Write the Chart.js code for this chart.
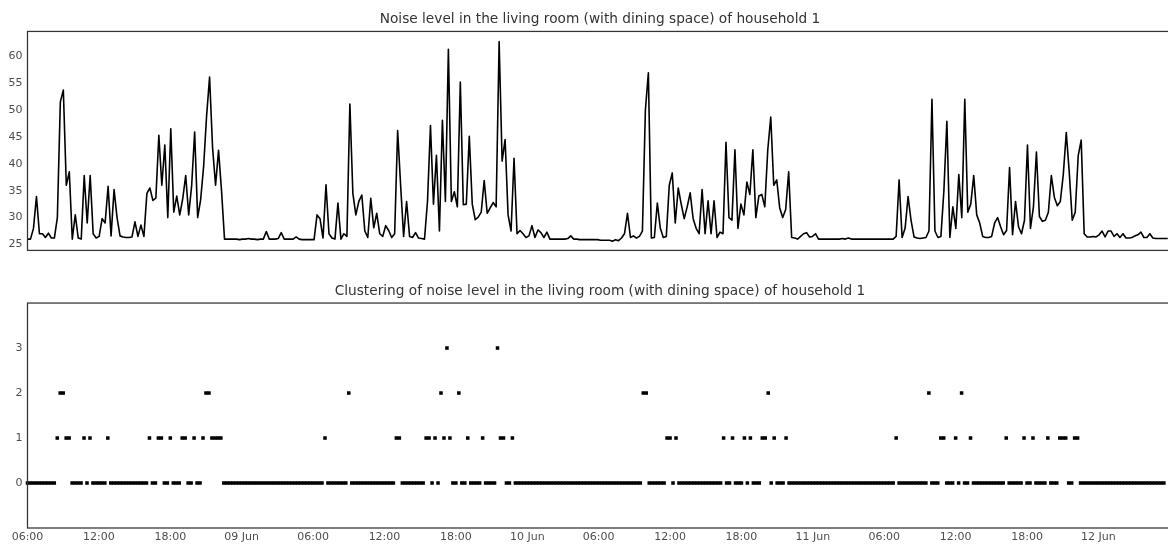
<!DOCTYPE html>
<html>
<head>
<meta charset="utf-8">
<script src="https://cdn.jsdelivr.net/npm/chart.js@4.4.1/dist/chart.umd.min.js"></script>
<style>
  html, body { margin: 0; padding: 0; background: #fff; }
  body { width: 1168px; height: 544px; overflow: hidden; position: relative; }
  .panel { position: absolute; left: 0; width: 1200px; }
  #noise-panel { top: 0; height: 262px; }
  #cluster-panel { top: 270px; height: 274px; }
</style>
</head>
<body>
<div class="panel" id="noise-panel"><canvas id="noise-chart"></canvas></div>
<div class="panel" id="cluster-panel"><canvas id="cluster-chart"></canvas></div>
<script>
  // One reading every 15 minutes, starting 08 Jun 06:00
  const SAMPLE_MINUTES = 15;

  // Noise level (dB)
  const noiseLevel = [
    26.0, 26.0, 28.0, 33.9, 27.0, 27.0, 26.3, 27.1, 26.2, 26.2,
    30.0, 51.5, 53.7, 36.0, 38.5, 26.0, 30.5, 26.2, 26.0, 37.8,
    29.0, 37.8, 27.0, 26.2, 26.5, 29.8, 29.0, 35.8, 26.6, 35.2,
    30.0, 26.6, 26.4, 26.3, 26.3, 26.4, 29.2, 26.5, 28.6, 26.5,
    34.5, 35.5, 33.2, 33.6, 45.3, 36.0, 43.5, 30.0, 46.5, 31.0,
    34.0, 30.5, 33.5, 37.8, 30.5, 36.0, 45.9, 30.0, 33.3, 39.5,
    48.9, 56.1, 43.0, 36.0, 42.5, 35.0, 26.0, 26.0, 26.0, 26.0,
    26.0, 25.9, 26.0, 26.0, 26.1, 26.0, 26.0, 25.9, 26.0, 26.0,
    27.4, 26.0, 26.0, 26.0, 26.1, 27.2, 26.0, 26.0, 26.0, 26.0,
    26.4, 26.0, 25.9, 25.9, 25.9, 25.9, 25.9, 30.5, 29.8, 26.2,
    36.1, 27.0, 26.2, 26.0, 32.7, 26.0, 27.0, 26.5, 51.1, 34.5,
    30.5, 33.0, 34.2, 27.5, 26.3, 33.6, 28.1, 30.8, 27.0, 26.5,
    28.5, 27.6, 26.3, 27.0, 46.2, 36.0, 26.5, 33.0, 26.5, 26.3,
    27.2, 26.2, 26.1, 26.0, 33.0, 47.1, 32.5, 41.6, 27.5, 48.1,
    33.0, 61.3, 33.0, 34.8, 32.0, 55.2, 32.4, 32.5, 45.1, 32.5,
    29.6, 30.1, 31.0, 36.9, 30.8, 31.8, 32.8, 32.0, 62.7, 40.5,
    44.5, 30.5, 27.5, 41.0, 27.0, 27.6, 27.0, 26.3, 26.6, 28.5,
    26.3, 27.7, 27.2, 26.3, 27.3, 26.0, 26.0, 26.0, 26.0, 26.0,
    26.0, 26.1, 26.6, 26.0, 26.0, 25.9, 25.9, 25.9, 25.9, 25.9,
    25.9, 25.9, 25.8, 25.8, 25.8, 25.8, 25.6, 25.9, 25.7, 26.2,
    27.0, 30.8, 26.3, 26.6, 26.2, 26.5, 27.5, 50.0, 56.9, 26.2,
    26.3, 32.7, 28.0, 26.3, 26.5, 36.0, 38.3, 29.0, 35.5, 32.5,
    29.8, 32.0, 34.6, 29.8, 28.0, 27.0, 35.2, 27.0, 33.1, 27.0,
    33.1, 26.3, 27.3, 27.0, 44.0, 30.0, 29.5, 42.6, 28.0, 32.5,
    30.5, 36.6, 34.3, 42.6, 30.0, 34.0, 34.3, 32.0, 42.6, 48.7,
    36.0, 37.0, 31.8, 30.0, 31.5, 38.5, 26.3, 26.2, 26.0, 26.5,
    27.0, 27.2, 26.4, 26.5, 27.0, 26.0, 26.0, 26.0, 26.0, 26.0,
    26.0, 26.0, 26.0, 26.1, 26.0, 26.2, 26.0, 26.0, 26.0, 26.0,
    26.0, 26.0, 26.0, 26.0, 26.0, 26.0, 26.0, 26.0, 26.0, 26.0,
    26.0, 26.5, 37.0, 26.3, 28.0, 33.9, 29.5, 26.4, 26.2, 26.1,
    26.2, 26.3, 27.5, 52.0, 27.5, 26.3, 26.5, 35.0, 47.9, 26.3,
    32.0, 28.0, 38.0, 30.0, 52.0, 31.0, 32.5, 37.8, 30.5, 29.0,
    26.5, 26.3, 26.3, 26.5, 29.0, 30.0, 28.3, 26.8, 27.6, 39.3,
    26.8, 33.0, 28.3, 27.0, 29.5, 43.5, 28.0, 32.0, 42.2, 30.2,
    29.3, 29.5, 31.0, 37.8, 33.8, 32.2, 33.0, 38.0, 45.8, 38.4,
    29.5, 31.0, 41.5, 44.4, 27.0, 26.4, 26.4, 26.5, 26.4, 26.8,
    27.5, 26.4, 27.5, 27.5, 26.5, 27.0, 26.3, 27.0, 26.2, 26.2,
    26.3, 26.6, 26.8, 27.3, 26.3, 26.3, 27.0, 26.2, 26.1, 26.1,
    26.1, 26.1, 26.1
  ];

  // Sample positions that fall in cluster 1, 2 and 3 (all others are cluster 0)
  const clusterOneSamples = [
    10, 13, 14, 19, 21, 27, 41, 44, 45, 48, 52, 53, 56, 59, 62, 63, 64, 65,
    100, 124, 125, 134, 135, 137, 140, 142, 148, 153, 159, 160, 163,
    215, 216, 218, 234, 237, 241, 243, 247, 248, 251, 255,
    292, 307, 308, 312, 317, 329, 335, 338, 343, 347, 348, 349, 352, 353
  ];
  const clusterTwoSamples = [11, 12, 60, 61, 108, 139, 145, 207, 208, 249, 303, 314];
  const clusterThreeSamples = [141, 158];

  // Axis ticks (hours since 08 Jun 06:00)
  const xTickHours = [0, 6, 12, 18, 24, 30, 36, 42, 48, 54, 60, 66, 72, 78, 84, 90];
  const xTickLabels = [
    '06:00', '12:00', '18:00', '09 Jun', '06:00', '12:00', '18:00', '10 Jun',
    '06:00', '12:00', '18:00', '11 Jun', '06:00', '12:00', '18:00', '12 Jun'
  ];
  const noiseTicks = [25, 30, 35, 40, 45, 50, 55, 60];
  const clusterTicks = [0, 1, 2, 3];

  const FONT = 'DejaVu Sans';
  const TICK_COLOR = '#4d4d4d';
  const FRAME_COLOR = '#333';
  const X_MIN = 0;
  const X_MAX = 98.2;

  Chart.defaults.font.family = FONT;
  Chart.defaults.animation = false;

  const hours = noiseLevel.map((_, i) => i * SAMPLE_MINUTES / 60);

  const clusterLabel = noiseLevel.map(() => 0);
  clusterOneSamples.forEach(i => { clusterLabel[i] = 1; });
  clusterTwoSamples.forEach(i => { clusterLabel[i] = 2; });
  clusterThreeSamples.forEach(i => { clusterLabel[i] = 3; });

  function fixedTicks(values) {
    return function(scale) {
      scale.ticks = values.map(v => ({ value: v }));
    };
  }

  // Draws the box around the plot area (matplotlib style spines)
  const framePlugin = {
    id: 'frame',
    afterDraw(chart) {
      const a = chart.chartArea;
      const ctx = chart.ctx;
      ctx.save();
      ctx.strokeStyle = FRAME_COLOR;
      ctx.lineWidth = 1.25;
      ctx.strokeRect(a.left, a.top, a.right - a.left, a.bottom - a.top);
      ctx.restore();
    }
  };

  function yAxis(min, max, ticks) {
    return {
      type: 'linear',
      min: min,
      max: max,
      afterFit: scale => { scale.width = 27.5; },
      afterBuildTicks: fixedTicks(ticks),
      grid: { display: false, drawTicks: false },
      border: { display: false },
      ticks: { padding: 5, color: TICK_COLOR, font: { size: 11 } }
    };
  }

  function titleOptions(text, top, bottom) {
    return {
      display: true,
      text: text,
      color: '#333',
      font: { size: 13.7, weight: 'normal' },
      padding: { top: top, bottom: bottom }
    };
  }

  new Chart(document.getElementById('noise-chart'), {
    type: 'line',
    data: {
      datasets: [{
        data: hours.map((h, i) => ({ x: h, y: noiseLevel[i] })),
        borderColor: '#000',
        borderWidth: 1.6,
        borderJoinStyle: 'round',
        pointRadius: 0,
        tension: 0,
        fill: false
      }]
    },
    options: {
      responsive: true,
      maintainAspectRatio: false,
      layout: { padding: { left: 0, right: 0, top: 0, bottom: 5 } },
      plugins: {
        legend: { display: false },
        tooltip: { enabled: false },
        title: titleOptions('Noise level in the living room (with dining space) of household 1', 11, 4)
      },
      scales: {
        x: { type: 'linear', min: X_MIN, max: X_MAX, display: false },
        y: yAxis(23.9, 64.6, noiseTicks)
      }
    },
    plugins: [framePlugin]
  });

  new Chart(document.getElementById('cluster-chart'), {
    type: 'scatter',
    data: {
      datasets: [{
        data: hours.map((h, i) => ({ x: h, y: clusterLabel[i] })),
        pointStyle: 'rect',
        pointRadius: 2.5,
        backgroundColor: '#000',
        borderWidth: 0,
        clip: false
      }]
    },
    options: {
      responsive: true,
      maintainAspectRatio: false,
      layout: { padding: 0 },
      plugins: {
        legend: { display: false },
        tooltip: { enabled: false },
        title: titleOptions('Clustering of noise level in the living room (with dining space) of household 1', 13, 3.6)
      },
      scales: {
        x: {
          type: 'linear',
          min: X_MIN,
          max: X_MAX,
          afterFit: scale => { scale.height = 16; },
          afterBuildTicks: fixedTicks(xTickHours),
          grid: { display: false, drawTicks: false },
          border: { display: false },
          ticks: {
            padding: 3,
            color: TICK_COLOR,
            font: { size: 11 },
            maxRotation: 0,
            autoSkip: false,
            callback: (value, index) => xTickLabels[index]
          }
        },
        y: yAxis(-1, 4, clusterTicks)
      }
    },
    plugins: [framePlugin]
  });
</script>
</body>
</html>
